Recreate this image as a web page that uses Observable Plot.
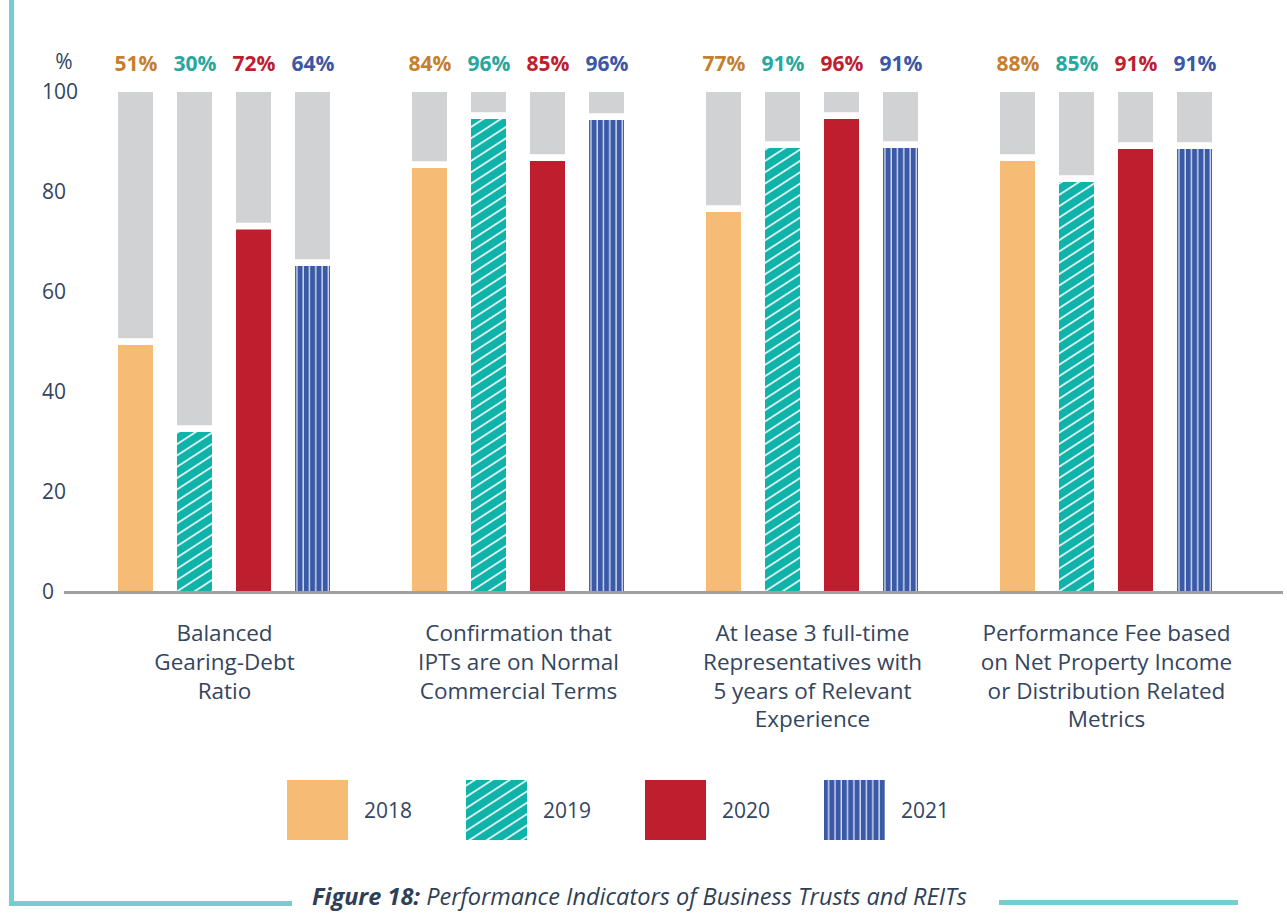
<!DOCTYPE html>
<html><head><meta charset="utf-8">
<script src="https://cdn.jsdelivr.net/npm/d3@7"></script>
<script src="https://cdn.jsdelivr.net/npm/@observablehq/plot@0.6"></script>
<style>
body{margin:0;background:#fff;width:1287px;height:914px;position:relative;overflow:hidden;font-family:"Open Sans",sans-serif;color:#2f3f56}
#chart{position:absolute;left:0;top:0}
.frame{position:absolute;background:#74cdd0}
#legend{position:absolute;left:287px;top:780px;display:flex}
.item{display:flex;align-items:center;width:179px}
.item span{margin-left:16px;font-size:21px;color:#34455e}
#caption{position:absolute;left:312px;top:885px;font-size:23.5px;line-height:23.5px;font-style:italic;white-space:nowrap;color:#2f3f56}
</style></head><body>
<div class="frame" style="left:9px;top:0;width:5px;height:906px"></div>
<div class="frame" style="left:9px;top:901px;width:283px;height:5px"></div>
<div class="frame" style="left:999px;top:900px;width:239px;height:5px"></div>
<div id="chart"></div>
<div id="legend"></div>
<div id="caption"><b>Figure 18:</b> Performance Indicators of Business Trusts and REITs</div>
<script>
// ---- data ----
const groups = ["Balanced Gearing-Debt Ratio", "Confirmation that IPTs are on Normal Commercial Terms", "At lease 3 full-time Representatives with 5 years of Relevant Experience", "Performance Fee based on Net Property Income or Distribution Related Metrics"];
const groupLabels = ["Balanced\nGearing-Debt\nRatio", "Confirmation that\nIPTs are on Normal\nCommercial Terms", "At lease 3 full-time\nRepresentatives with\n5 years of Relevant\nExperience", "Performance Fee based\non Net Property Income\nor Distribution Related\nMetrics"];
const years = ["2018", "2019", "2020", "2021"];
// printed percentages
const label2018 = [51, 84, 77, 88];
const label2019 = [30, 96, 91, 85];
const label2020 = [72, 85, 96, 91];
const label2021 = [64, 96, 91, 91];
// drawn bar heights
const bar2018 = [49.4, 84.8, 76.0, 86.2];
const bar2019 = [32.0, 94.6, 88.8, 82.0];
const bar2020 = [72.5, 86.2, 94.6, 88.6];
const bar2021 = [65.2, 94.4, 88.8, 88.6];
const yTicks = [0, 20, 40, 60, 80, 100];

const labelsByYear = {"2018": label2018, "2019": label2019, "2020": label2020, "2021": label2021};
const barsByYear = {"2018": bar2018, "2019": bar2019, "2020": bar2020, "2021": bar2021};
const fills = {"2018": "#f6bb74", "2019": "url(#hatch2019)", "2020": "#be1e2d", "2021": "url(#stripe2021)"};
const textColors = {"2018": "#c67f2e", "2019": "#27a7a0", "2020": "#be1e2d", "2021": "#3b57a6"};
const GAP = 1.35;

const rows = [];
groups.forEach((g, i) => years.forEach(y => rows.push({group: g, year: y, label: labelsByYear[y][i], bar: barsByYear[y][i]})));

const marks = [];
marks.push(Plot.barY(rows, {fx: "group", x: "year", y1: d => d.bar + GAP, y2: 100, fill: "#d1d2d4"}));
for (const y of years) {
  const sub = rows.filter(d => d.year === y);
  marks.push(Plot.barY(sub, {fx: "group", x: "year", y1: 0, y2: "bar", fill: fills[y]}));
  marks.push(Plot.text(sub, {fx: "group", x: "year", frameAnchor: "top", lineAnchor: "middle", dy: -28, text: d => d.label + "%", fill: textColors[y], fontWeight: 700, fontSize: 21}));
}
marks.push(Plot.ruleY([0], {stroke: "#a0a0a0", strokeWidth: 3, insetLeft: -13.5, insetRight: -30, shapeRendering: "crispEdges"}));
marks.push(Plot.text(yTicks, {fx: () => groups[0], y: d => d, text: d => String(d), frameAnchor: "left", textAnchor: "start", lineAnchor: "middle", dx: -35.5, fontSize: 21, fill: "#34455e"}));
marks.push(Plot.text(["%"], {fx: () => groups[0], frameAnchor: "top-left", textAnchor: "middle", lineAnchor: "middle", dx: -13.5, dy: -30, text: d => d, fontSize: 21, fill: "#34455e"}));
marks.push(Plot.text(groups, {fx: d => d, text: (d, i) => groupLabels[i], frameAnchor: "bottom", textAnchor: "middle", lineAnchor: "top", dy: 28, fontSize: 22.5, lineHeight: 1.28, fill: "#34455e"}));

const plot = Plot.plot({
  width: 1287, height: 760,
  marginLeft: 62, marginRight: 0, marginTop: 92, marginBottom: 168,
  fx: {domain: groups, axis: null, paddingInner: 0, paddingOuter: 0.0763, align: 0.3},
  x: {domain: years, axis: null, paddingInner: 0.4, paddingOuter: 0.658},
  y: {domain: [0, 100], axis: null},
  style: {fontFamily: "'Open Sans', sans-serif", background: "transparent", overflow: "visible"},
  marks
});

const defs = `
<pattern id="hatch2019" patternUnits="userSpaceOnUse" width="10" height="9.5" patternTransform="rotate(-33)">
  <rect width="10" height="9.5" fill="#10b3a9"/>
  <line x1="0" y1="4.75" x2="10" y2="4.75" stroke="#ffffff" stroke-width="1.6"/>
</pattern>
<pattern id="stripe2021" patternUnits="userSpaceOnUse" width="6.3" height="10">
  <rect width="6.3" height="10" fill="#3a5aa8"/>
  <rect x="4" width="1.4" height="10" fill="#d3daf0"/>
</pattern>`;
const d = document.createElementNS("http://www.w3.org/2000/svg", "defs");
d.innerHTML = defs;
plot.insertBefore(d, plot.firstChild);
document.getElementById("chart").appendChild(plot);

const legend = document.getElementById("legend");
for (const y of years) {
  const item = document.createElement("div");
  item.className = "item";
  item.innerHTML = `<svg width="61" height="60"><rect width="61" height="60" fill="${fills[y]}"/></svg><span>${y}</span>`;
  legend.appendChild(item);
}
</script>
</body></html>
